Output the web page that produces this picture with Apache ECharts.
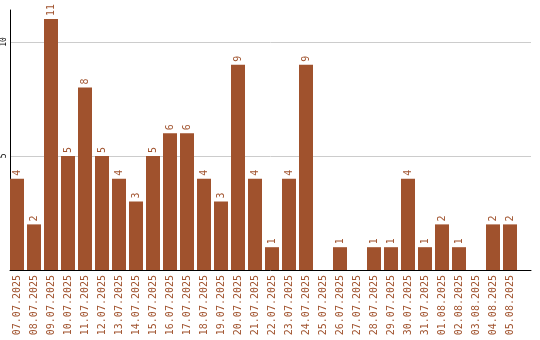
<!DOCTYPE html>
<html>
<head>
<meta charset="utf-8">
<script src="https://cdn.jsdelivr.net/npm/echarts@6/dist/echarts.min.js"></script>
<style>html,body{margin:0;padding:0;background:#fff}#c{width:540px;height:340px}</style>
</head>
<body>
<div id="c"></div>
<script>
const categories = ["07.07.2025","08.07.2025","09.07.2025","10.07.2025","11.07.2025","12.07.2025","13.07.2025","14.07.2025","15.07.2025","16.07.2025","17.07.2025","18.07.2025","19.07.2025","20.07.2025","21.07.2025","22.07.2025","23.07.2025","24.07.2025","25.07.2025","26.07.2025","27.07.2025","28.07.2025","29.07.2025","30.07.2025","31.07.2025","01.08.2025","02.08.2025","03.08.2025","04.08.2025","05.08.2025"];
const values = [4,2,11,5,8,5,4,3,5,6,6,4,3,9,4,1,4,9,0,1,0,1,1,4,1,2,1,0,2,2];
const yTicks = [5,10];
const yMax = 11.4;

const font = "'DejaVu Sans Mono', monospace";
const brown = '#a0522d';
const chart = echarts.init(document.getElementById('c'), null, {renderer:'canvas'});
chart.setOption({
  animation:false,
  grid:[
    {left:10, right:9, top:10, bottom:70},
    {left:8.5, width:510, top:10, bottom:70}
  ],
  xAxis:[
    {type:'value', gridIndex:0, min:0, max:1, axisLine:{show:true, onZero:false, lineStyle:{color:'#000', width:1}}, axisTick:{show:false}, axisLabel:{show:false}, splitLine:{show:false}},
    {type:'category', gridIndex:1, data:categories, axisLine:{show:false}, axisTick:{show:false},
      axisLabel:{rotate:90, interval:0, color:brown, fontFamily:font, fontSize:10, margin:5}}
  ],
  yAxis:[
    {type:'value', gridIndex:0, min:0, max:yMax, interval:5,
      axisLine:{show:true, lineStyle:{color:'#000', width:1}}, axisTick:{show:false},
      axisLabel:{rotate:90, color:'#000', fontFamily:font, fontSize:8, margin:2, showMaxLabel:false,
        formatter:v=> yTicks.includes(v) ? String(v) : ''},
      splitLine:{show:true, showMinLine:false, showMaxLine:false, lineStyle:{color:'#cccccc', width:1}}},
    {type:'value', gridIndex:1, min:0, max:yMax, show:false, splitLine:{show:false}}
  ],
  series:[{
    type:'bar', xAxisIndex:1, yAxisIndex:1, data:values, barWidth:14,
    itemStyle:{color:brown},
    label:{show:true, position:'top', rotate:90, align:'left', verticalAlign:'middle', distance:3,
      color:brown, fontFamily:font, fontSize:10, formatter:p=> p.value ? String(p.value) : ''}
  }]
});
</script>
</body>
</html>
